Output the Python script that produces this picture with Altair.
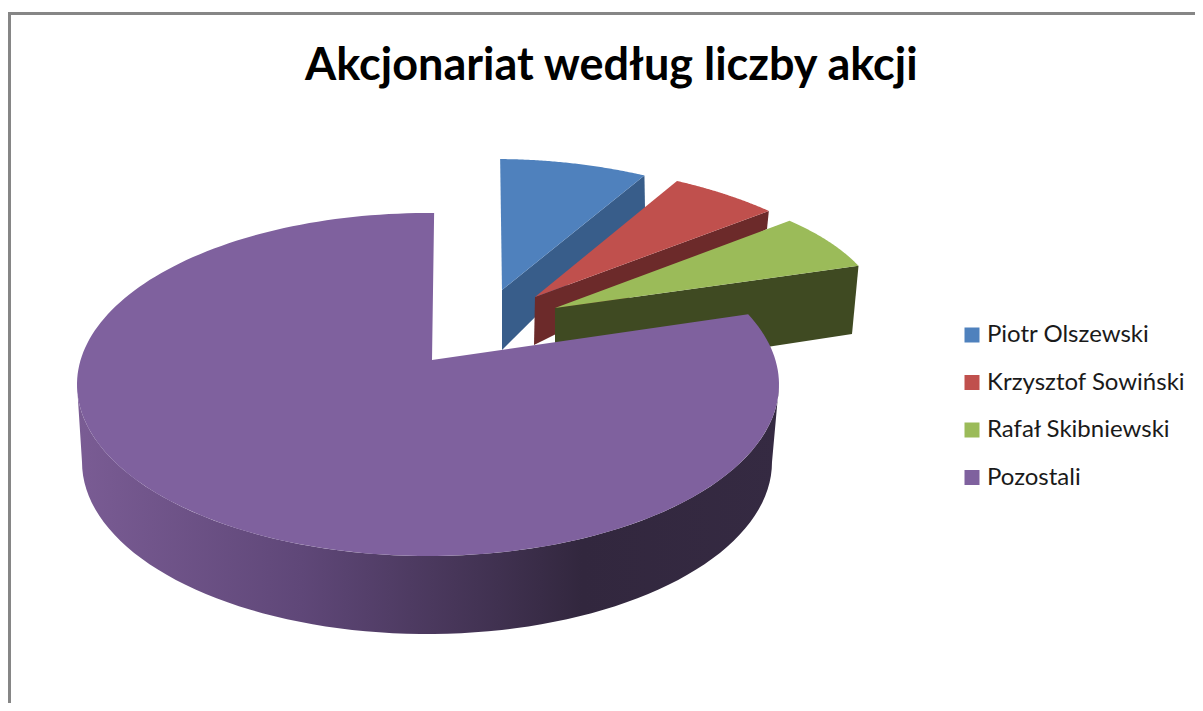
import numpy as np
import pandas as pd
import altair as alt

TITLE = "Akcjonariat według liczby akcji"
NAMES = ["Piotr Olszewski", "Krzysztof Sowiński", "Rafał Skibniewski", "Pozostali"]
SHARES = [6.75, 4.75, 6.5, 82.0]
FIRST_ANGLE = 1.0

TOP_COLORS = ["#4f81bd", "#c0504d", "#9bbb59", "#7f619e"]
SIDE_COLORS = ["#385d8a", "#6c2a2a", "#3f4a22"]

# Picture geometry of each exploded slice: ellipse centre and radii, apex.
ELLIPSES = [
    (494, 331, 352, 172, 502, 290),
    (518, 344.6, 372, 181, 535, 297),
    (594, 322, 290, 137, 555, 308),
    (428, 384.5, 351, 171.5, 432, 360),
]
# Extrusion offsets of the three small slices (outer corner, inner corner).
WALLS = [
    ((645, 208), (502, 350)),
    ((767, 229), (534, 345)),
    ((852, 334), (555, 379)),
]
LOWER_RIM = (427, 462, 345, 172)

W, H = 1187, 695
xs = alt.Scale(domain=[8, 8 + W], range=[0, W], zero=False, nice=False)
ys = alt.Scale(domain=[8 + H, 8], range=[H, 0], zero=False, nice=False)


def arc(e, t0, t1, n=80):
    t = np.radians(np.linspace(t0, t1, n))
    return list(zip(e[0] + e[2] * np.sin(t), e[1] - e[3] * np.cos(t)))


def frame(points, name):
    return pd.DataFrame(
        {
            "x": [float(p[0]) for p in points],
            "y": [float(p[1]) for p in points],
            "i": list(range(len(points))),
            "series": name,
        }
    )


def shape(df, **mark):
    return alt.Chart(df).mark_line(strokeWidth=0, interpolate="linear", **mark).encode(
        x=alt.X("x:Q", scale=xs, axis=None),
        y=alt.Y("y:Q", scale=ys, axis=None),
        order=alt.Order("i:Q"),
    )


fill_enc = alt.Fill(
    "series:N",
    scale=alt.Scale(domain=NAMES, range=TOP_COLORS),
    sort=NAMES,
    legend=alt.Legend(
        title=None,
        orient="none",
        legendX=952,
        legendY=315,
        symbolType="square",
        symbolSize=225,
        symbolStrokeWidth=0,
        symbolOpacity=1,
        labelFont="Lato",
        labelFontSize=24,
        labelColor="#1a1a1a",
        labelOffset=3,
        labelLimit=260,
        rowPadding=23.5,
    ),
)

layers = []
edges = np.cumsum([0] + SHARES) * 3.6 + FIRST_ANGLE

for k in range(3):
    e = ELLIPSES[k]
    t0, t1 = edges[k], edges[k + 1]
    a = arc(e, t0, t1)
    apex = (e[4], e[5])
    wall = [apex, a[-1], WALLS[k][0], WALLS[k][1], apex]
    layers.append(shape(frame(wall, NAMES[k])).encode(fill=alt.value(SIDE_COLORS[k])))
    layers.append(shape(frame([apex] + a + [apex], NAMES[k])).encode(fill=fill_enc))

e = ELLIPSES[3]
rim = LOWER_RIM
side = arc(e, 90, 270) + arc(rim, 270, 90)
wall_gradient = alt.LinearGradient(
    gradient="linear",
    x1=0, x2=1, y1=0, y2=0,
    stops=[
        alt.GradientStop(offset=0.0, color="#7a5c94"),
        alt.GradientStop(offset=0.32, color="#5f4778"),
        alt.GradientStop(offset=0.6, color="#403150"),
        alt.GradientStop(offset=0.72, color="#32273e"),
        alt.GradientStop(offset=1.0, color="#352a42"),
    ],
)
layers.append(shape(frame(side + side[:1], NAMES[3]), fill=wall_gradient))
a = arc(e, edges[3], edges[4], 200)
apex = (e[4], e[5])
layers.append(shape(frame([apex] + a + [apex], NAMES[3])).encode(fill=fill_enc))

border_top = alt.Chart(pd.DataFrame({"k": [0]})).mark_rule(color="#868686", strokeWidth=3).encode(
    x=alt.value(0), x2=alt.value(W), y=alt.value(5.5)
)
border_left = alt.Chart(pd.DataFrame({"k": [0]})).mark_rule(color="#868686", strokeWidth=3).encode(
    x=alt.value(1.5), y=alt.value(4), y2=alt.value(H)
)

chart = (
    alt.layer(border_top, border_left, *layers)
    .resolve_scale(fill="shared")
    .properties(
        width=W,
        height=H,
        padding=0,
        autosize=alt.AutoSizeParams(type="none"),
        title=alt.TitleParams(
            TITLE,
            font="Lato",
            fontWeight="bold",
            fontSize=45,
            color="#000000",
            anchor="start",
            frame="group",
            orient="top",
            offset=0,
            dx=297,
            dy=81,
        ),
    )
    .configure_view(stroke=None)
)

chart.save("out.html", embed_options={"renderer": "svg", "actions": False})
